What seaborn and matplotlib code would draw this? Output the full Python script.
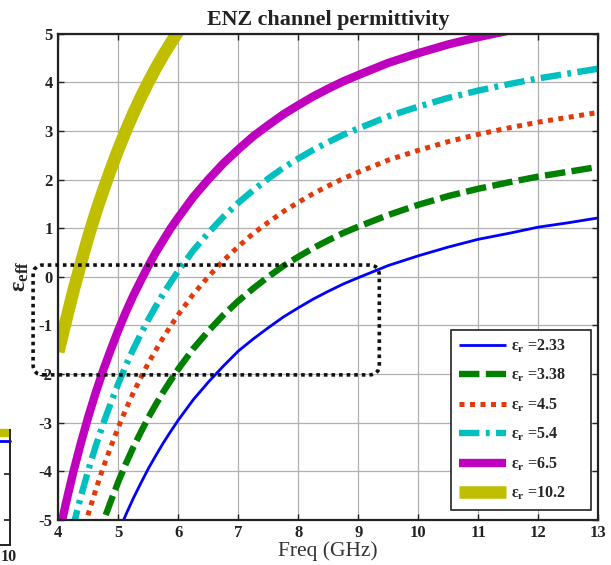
import numpy as np
import pandas as pd
import matplotlib
matplotlib.use("Agg")
import matplotlib.pyplot as plt
from matplotlib.patches import FancyBboxPatch
from matplotlib.lines import Line2D
import seaborn as sns

# ---------------- data ----------------
nan = np.nan
FREQ = [4.0, 4.125, 4.25, 4.375, 4.5, 4.625, 4.75, 4.875, 5.0, 5.125, 5.25, 5.375,
        5.5, 5.625, 5.75, 5.875, 6.0, 6.25, 6.5, 6.75, 7.0, 7.25, 7.5, 7.75,
        8.0, 8.25, 8.5, 8.75, 9.0, 9.5, 10.0, 10.5, 11.0, 11.5, 12.0, 12.5, 13.0]
EPS_2_33 = [nan, nan, nan, nan, nan, nan, -6.09, -5.67, -5.27, -4.90, -4.56, -4.25,
            -3.95, -3.68, -3.42, -3.18, -2.95, -2.53, -2.17, -1.84, -1.53, -1.28, -1.05, -0.83,
            -0.64, -0.46, -0.30, -0.15, -0.02, 0.23, 0.43, 0.61, 0.77, 0.89, 1.02, 1.11, 1.21]
EPS_3_38 = [nan, nan, nan, nan, -6.00, -5.50, -5.04, -4.62, -4.22, -3.85, -3.51, -3.20,
            -2.90, -2.63, -2.37, -2.13, -1.90, -1.48, -1.12, -0.79, -0.50, -0.24, 0.00, 0.22,
            0.41, 0.59, 0.75, 0.90, 1.03, 1.27, 1.48, 1.66, 1.81, 1.94, 2.06, 2.16, 2.26]
EPS_4_5 = [nan, nan, -6.02, -5.43, -4.88, -4.38, -3.92, -3.50, -3.10, -2.73, -2.39, -2.08,
           -1.78, -1.51, -1.25, -1.01, -0.78, -0.36, 0.00, 0.33, 0.62, 0.89, 1.12, 1.34,
           1.53, 1.71, 1.87, 2.02, 2.15, 2.40, 2.60, 2.78, 2.93, 3.06, 3.18, 3.28, 3.38]
EPS_5_4 = [-6.48, -5.77, -5.12, -4.53, -3.98, -3.48, -3.02, -2.60, -2.20, -1.83, -1.49, -1.18,
           -0.88, -0.61, -0.35, -0.11, 0.12, 0.54, 0.90, 1.23, 1.52, 1.78, 2.02, 2.24,
           2.43, 2.61, 2.77, 2.92, 3.05, 3.30, 3.50, 3.68, 3.83, 3.96, 4.08, 4.18, 4.28]
EPS_6_5 = [-5.38, -4.67, -4.02, -3.43, -2.88, -2.38, -1.92, -1.50, -1.10, -0.73, -0.39, -0.08,
           0.22, 0.50, 0.75, 1.00, 1.22, 1.64, 2.00, 2.33, 2.62, 2.89, 3.12, 3.34,
           3.53, 3.71, 3.87, 4.02, 4.15, 4.40, 4.60, 4.78, 4.93, 5.06, nan, nan, nan]
EPS_10_2 = [-1.55, -0.92, -0.30, 0.27, 0.82, 1.32, 1.78, 2.21, 2.62, 3.00, 3.36, 3.69,
            4.00, 4.29, 4.56, 4.81, 5.05, nan, nan, nan, nan, nan, nan, nan,
            nan, nan, nan, nan, nan, nan, nan, nan, nan, nan, nan, nan, nan]
SERIES_NAMES = ["2.33", "3.38", "4.5", "5.4", "6.5", "10.2"]
SERIES_VALUES = [EPS_2_33, EPS_3_38, EPS_4_5, EPS_5_4, EPS_6_5, EPS_10_2]

X_TICKS = [4, 5, 6, 7, 8, 9, 10, 11, 12, 13]
Y_TICKS = [-5, -4, -3, -2, -1, 0, 1, 2, 3, 4, 5]
TITLE = "ENZ channel permittivity"
XLABEL = "Freq (GHz)"
# highlighted ENZ region (dotted rounded box), in data units
BOX_F = (3.58, 9.35)
BOX_EPS = (-2.02, 0.24)

# ---------------- style ----------------
COLORS = ["#0000FF", "#008000", "#E23A0A", "#00BFBF", "#BF00BF", "#BFBF00"]
WIDTHS = [2.0, 4.6, 3.6, 4.6, 6.0, 9.0]
DASHES = [None, (3.2, 1.0), (1.0, 1.1), (3.2, 1.0, 0.6, 1.0), None, None]

sns.set_theme(style="whitegrid")
plt.rcParams["font.family"] = ["Liberation Serif", "DejaVu Serif"]
plt.rcParams["mathtext.fontset"] = "custom"
plt.rcParams["mathtext.rm"] = "Liberation Serif"
plt.rcParams["mathtext.bf"] = "Liberation Serif:bold"
plt.rcParams["mathtext.it"] = "Liberation Serif:italic"
plt.rcParams["axes.unicode_minus"] = False

rows = []
for name, vals in zip(SERIES_NAMES, SERIES_VALUES):
    for f, v in zip(FREQ, vals):
        rows.append({"freq": f, "eps": v, "er": name})
df = pd.DataFrame(rows).dropna()

fig = plt.figure(figsize=(6.11, 5.65), dpi=100)
ax = fig.add_axes([58.3 / 611, 1 - 519.7 / 565, 540 / 611, 486 / 565])

handles = []
for name, c, w, d in zip(SERIES_NAMES, COLORS, WIDTHS, DASHES):
    sub = df[df["er"] == name]
    sns.lineplot(data=sub, x="freq", y="eps", ax=ax, color=c, linewidth=w,
                 estimator=None, sort=False, legend=False)
    ln = ax.lines[-1]
    ln.set_solid_capstyle("butt")
    ln.set_solid_joinstyle("round")
    ln.set_dash_joinstyle("round")
    if d is not None:
        ln.set_dashes(d)
    h = Line2D([0], [0], color=c, linewidth=w, solid_capstyle="butt")
    if d is not None:
        h.set_dashes(d)
    handles.append(h)

ax.set_xlim(4, 13)
ax.set_ylim(-5, 5)
ax.set_xticks(X_TICKS)
ax.set_yticks(Y_TICKS)
ax.grid(True, color="#b0b0b0", linewidth=0.9, linestyle="-")
ax.set_facecolor("white")
for s in ax.spines.values():
    s.set_color("#222222")
    s.set_linewidth(1.6)
    s.set_visible(True)
ax.tick_params(axis="both", which="both", direction="in", length=4, width=1,
               color="#222222", top=True, right=True, bottom=True, left=True,
               labelsize=12, pad=4, labelcolor="#222222")
for lab in ax.get_xticklabels() + ax.get_yticklabels():
    lab.set_fontweight("bold")

ax.set_title(TITLE, fontsize=15.8, fontweight="bold", color="#222222", pad=6)
ax.set_xlabel(XLABEL, fontsize=15.5, color="#333333")
ax.xaxis.set_label_coords(0.5, -0.0644)
ax.xaxis.label.set_va("center")
ax.set_ylabel(r"$\mathbf{ε_{eff}}$", fontsize=17.5, color="#222222")
ax.yaxis.set_label_coords(-0.05, 0.5)

leg = ax.legend(handles, [r"$\mathbf{ε_r}$ =" + n + "     " for n in SERIES_NAMES],
                loc="lower right", bbox_to_anchor=(0.986, 0.02), borderaxespad=0,
                frameon=True, fancybox=False, framealpha=1, edgecolor="#222222",
                prop={"family": "Liberation Serif", "weight": "bold", "size": 11.5},
                handlelength=3.0, labelspacing=0.75, handletextpad=0.3,
                borderpad=0.5)
leg.get_frame().set_linewidth(1.2)

box = FancyBboxPatch((BOX_F[0], BOX_EPS[0]), BOX_F[1] - BOX_F[0], BOX_EPS[1] - BOX_EPS[0],
                     boxstyle="round,pad=0,rounding_size=0.17", mutation_aspect=60 / 48.6,
                     transform=ax.transData, clip_on=False, fill=False,
                     edgecolor="#111111", linewidth=2.6, linestyle=(0, (1, 1.1)), zorder=5)
ax.add_patch(box)

# fragment of a neighbouring panel visible at the left edge of the crop
ax2 = fig.add_axes([-0.1, 1 - 545 / 565, 0.1 + 10.5 / 611, 115 / 565])
ax2.set_xlim(0, 1)
ax2.set_ylim(0, 1)
ax2.set_facecolor("white")
ax2.grid(False)
for k in ["left", "top"]:
    ax2.spines[k].set_visible(False)
for k in ["right", "bottom"]:
    ax2.spines[k].set_visible(True)
    ax2.spines[k].set_color("#222222")
    ax2.spines[k].set_linewidth(1.4)
ax2.set_xticks([])
ax2.set_yticks([0.22, 0.62])
ax2.yaxis.tick_right()
ax2.tick_params(axis="y", direction="in", length=4, labelright=False, color="#222222")
ax2.plot([0, 1], [0.975, 0.975], color="#BFBF00", linewidth=6, solid_capstyle="butt", clip_on=False)
ax2.plot([0, 1], [0.905, 0.905], color="#0000FF", linewidth=2, clip_on=False)
fig.text(0.5 / 611, 1 - 557 / 565, "10", ha="left", va="center", fontsize=11.5,
         fontweight="bold", color="#222222")

fig.savefig("out.png", dpi=100)
